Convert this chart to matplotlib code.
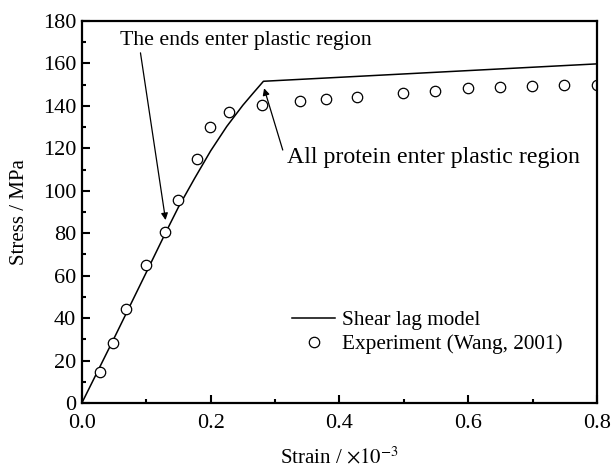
import matplotlib
matplotlib.use("Agg")
import matplotlib.pyplot as plt
from matplotlib.ticker import MultipleLocator, FormatStrFormatter

plt.rcParams['font.family'] = ['Liberation Serif', 'DejaVu Serif']
plt.rcParams['mathtext.fontset'] = 'stix'

# Shear lag model curve
model_strain = [0.0, 0.05, 0.10, 0.13, 0.15, 0.175, 0.20, 0.225, 0.25, 0.266, 0.282, 0.80]
model_stress = [0.0, 30.5, 61.5, 80.2, 92.3, 105.8, 118.8, 130.3, 140.3, 146.0, 151.6, 159.8]

# Experiment (Wang, 2001)
exp_strain = [0.028, 0.049, 0.068, 0.099, 0.129, 0.149, 0.179, 0.199, 0.229, 0.279,
              0.339, 0.379, 0.428, 0.499, 0.549, 0.599, 0.649, 0.699, 0.749, 0.80]
exp_stress = [14.5, 28.5, 44.5, 64.8, 80.6, 95.8, 114.8, 129.9, 137.0, 140.2,
              142.5, 143.1, 144.0, 145.9, 147.2, 148.2, 149.0, 149.5, 149.9, 150.0]

fig = plt.figure(figsize=(6.11, 4.71), dpi=100)
ax = fig.add_axes([0.134, 0.1444, 0.843, 0.811])

ax.plot(model_strain, model_stress, color='black', lw=1.1, label='Shear lag model')
ax.plot(exp_strain, exp_stress, linestyle='none', marker='o', ms=7.5, mfc='white',
        mec='black', mew=0.9, label='Experiment (Wang, 2001)')

ax.set_xlim(0, 0.8)
ax.set_ylim(0, 180)
ax.xaxis.set_major_locator(MultipleLocator(0.2))
ax.xaxis.set_minor_locator(MultipleLocator(0.1))
ax.yaxis.set_major_locator(MultipleLocator(20))
ax.yaxis.set_minor_locator(MultipleLocator(10))
ax.xaxis.set_major_formatter(FormatStrFormatter('%.1f'))
ax.tick_params(which='both', direction='in', top=False, right=False, labelsize=16, width=1.5)
ax.tick_params(which='major', length=6)
ax.tick_params(axis='x', which='major', pad=8)
ax.tick_params(axis='y', which='major', pad=4)
ax.tick_params(which='minor', length=3)
for s in ax.spines.values():
    s.set_linewidth(1.6)

ax.set_xlabel(r'Strain / $\times 10^{-3}$', fontsize=15, labelpad=10)
ax.set_ylabel('Stress / MPa', fontsize=15, labelpad=10)

arrow_kw = dict(arrowstyle='-|>', color='black', lw=0.9, mutation_scale=10,
                shrinkA=0, shrinkB=0)

ax.text(0.059, 171, 'The ends enter plastic region', fontsize=15.7, ha='left', va='center')
ax.annotate('', xy=(0.130, 86.2), xytext=(0.091, 165.0), arrowprops=arrow_kw)

ax.text(0.318, 115.5, 'All protein enter plastic region', fontsize=17.2, ha='left', va='center')
ax.annotate('', xy=(0.283, 148.3), xytext=(0.312, 119.2), arrowprops=arrow_kw)

ax.legend(loc='lower left', bbox_to_anchor=(0.388, 0.1), frameon=False, fontsize=15.3,
          handlelength=2.0, handletextpad=0.35, labelspacing=0.2, borderpad=0)

fig.savefig('out.png', dpi=100)
